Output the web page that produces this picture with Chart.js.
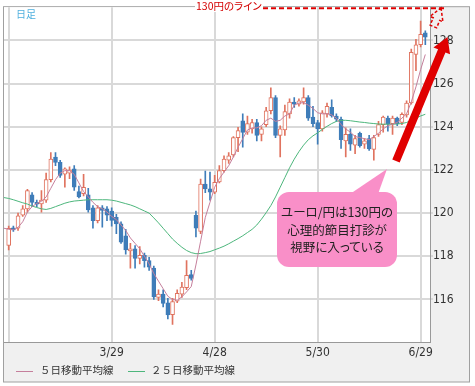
<!DOCTYPE html>
<html lang="ja">
<head>
<meta charset="utf-8">
<script src="https://cdn.jsdelivr.net/npm/chart.js@4.4.1/dist/chart.umd.min.js"></script>
<style>
  body { margin: 0; background: #fff; }
  #wrap { position: relative; width: 475px; height: 386px; font-family: "Noto Sans CJK JP", sans-serif; }
  #c { position: absolute; left: 0; top: 0; }
  .lbl { position: absolute; white-space: nowrap; line-height: 1; }
  #period { left: 16px; top: 9px; font-size: 10px; color: #4fb0de; }
  #line130 { left: 195px; top: 1px; font-size: 10.5px; color: #d40000; background: #fff; padding: 0 1px; font-feature-settings: "palt"; }
  #note { left: 277px; top: 203px; width: 120px; text-align: center; font-size: 12.5px; line-height: 17.5px; color: #222; font-feature-settings: "palt"; }
  .key { position: absolute; width: 17px; height: 0; border-top: 1px solid; top: 371px; }
  .legtxt { top: 365px; font-size: 10.5px; color: #333; }
</style>
</head>
<body>
<div id="wrap">
  <canvas id="c" width="475" height="386"></canvas>
  <div class="lbl" id="period">日足</div>
  <div class="lbl" id="line130">130円のライン</div>
  <div class="lbl" id="note">ユーロ/円は130円の<br>心理的節目打診が<br>視野に入っている</div>
  <span class="key" style="left:16px;border-color:#c57f9c"></span>
  <div class="lbl legtxt" style="left:40px">５日移動平均線</div>
  <span class="key" style="left:128px;border-color:#4db67c"></span>
  <div class="lbl legtxt" style="left:151px">２５日移動平均線</div>
</div>
<script>
// trading days, first and last entries are empty padding at the axis edges
const dates = ['2/24',
  '2/27','2/28','3/1','3/2','3/3','3/6','3/7','3/8','3/9','3/10',
  '3/13','3/14','3/15','3/16','3/17','3/20','3/21','3/22','3/23','3/24',
  '3/27','3/28','3/29','3/30','3/31','4/3','4/4','4/5','4/6','4/7',
  '4/10','4/11','4/12','4/13','4/14','4/17','4/18','4/19','4/20','4/21',
  '4/24','4/25','4/26','4/27','4/28','5/1','5/2','5/3','5/4','5/5',
  '5/8','5/9','5/10','5/11','5/12','5/15','5/16','5/17','5/18','5/19',
  '5/22','5/23','5/24','5/25','5/26','5/29','5/30','5/31','6/1','6/2',
  '6/5','6/6','6/7','6/8','6/9','6/12','6/13','6/14','6/15','6/16',
  '6/19','6/20','6/21','6/22','6/23','6/26','6/27','6/28','6/29','6/30',
  '7/3'];

const opens = [null,
  118.5, 119.32, 119.3, 119.9, 120.2, 120.85, 120.5, 120.43, 120.6, 121.55,
  122.6, 122.35, 121.8, 121.85, 122.05, 121.0, 120.9, 120.85, 120.25, 119.65,
  120.25, 120.2, 120.1, 119.8, 119.5, 118.95, 118.25, 118.35, 117.9, 118.05,
  117.8, 117.45, 116.1, 116.25, 115.85, 115.3, 115.92, 116.25, 116.55, 117.15,
  119.9, 119.15, 121.35, 121.12, 120.97, 121.45, 121.97, 122.45, 122.7, 123.5,
  124.28, 123.75, 123.9, 124.2, 123.65, 124.1, 124.75, 125.35, 123.6, 123.85,
  124.6, 125.15, 125.05, 125.15, 125.35, 124.45, 124.2, 123.9, 124.6, 124.9,
  124.5, 124.35, 123.35, 123.65, 123.15, 123.7, 123.2, 123.45, 122.95, 123.65,
  124.1, 124.4, 124.15, 124.4, 124.2, 124.55, 125.1, 127.35, 127.8, 128.35,
  null];
const highs = [null,
  119.4, 119.4, 120.0, 120.35, 121.1, 120.95, 120.6, 121.05, 121.85, 122.8,
  122.8, 122.45, 122.1, 122.15, 122.2, 121.25, 121.8, 121.15, 120.35, 120.35,
  120.35, 120.3, 120.25, 119.95, 119.6, 119.25, 118.6, 118.5, 118.45, 118.15,
  117.95, 117.55, 116.45, 116.45, 116.05, 116.05, 116.45, 116.8, 117.8, 117.35,
  120.1, 121.58, 121.95, 121.9, 121.75, 122.2, 122.65, 122.8, 123.55, 123.97,
  124.6, 124.5, 124.35, 124.35, 124.0, 124.9, 125.8, 125.45, 124.05, 125.0,
  125.3, 125.35, 125.3, 125.8, 125.45, 124.95, 124.3, 124.75, 125.1, 125.25,
  124.6, 124.45, 123.95, 123.9, 123.6, 123.75, 123.45, 123.6, 123.6, 124.25,
  124.5, 124.5, 124.5, 124.45, 124.65, 125.2, 127.6, 128.05, 128.9, 128.45,
  null];
const lows = [null,
  118.3, 119.15, 119.2, 119.85, 120.05, 120.3, 120.3, 120.05, 120.5, 121.45,
  122.2, 121.65, 121.2, 121.6, 121.05, 120.7, 120.8, 120.05, 119.3, 119.55,
  119.35, 119.65, 119.4, 119.05, 118.6, 118.1, 117.45, 117.45, 117.65, 117.5,
  117.35, 116.0, 115.95, 115.65, 115.1, 114.85, 115.85, 116.1, 116.45, 116.9,
  118.9, 119.05, 120.95, 120.6, 120.9, 121.4, 121.9, 122.3, 122.6, 122.85,
  123.05, 123.65, 123.7, 123.35, 123.35, 124.0, 124.6, 123.5, 122.6, 123.6,
  124.4, 124.9, 124.95, 125.05, 124.3, 124.0, 123.2, 123.8, 124.45, 124.45,
  124.25, 123.0, 122.6, 122.9, 122.75, 123.05, 123.0, 122.9, 122.45, 123.55,
  123.75, 123.8, 123.65, 124.05, 124.1, 124.45, 125.05, 126.6, 127.7, 127.8,
  null];
const closes = [null,
  119.3, 119.22, 119.88, 120.2, 121.05, 120.5, 120.42, 120.6, 121.55, 122.5,
  122.35, 121.75, 122.05, 122.0, 121.2, 120.75, 121.2, 120.15, 119.65, 120.25,
  120.12, 119.9, 119.66, 119.5, 118.66, 118.3, 118.35, 117.9, 118.05, 117.8,
  117.5, 116.12, 116.25, 115.82, 115.28, 115.9, 116.28, 116.58, 117.12, 116.97,
  119.3, 121.35, 121.12, 120.97, 121.43, 121.97, 122.5, 122.66, 123.5, 123.82,
  123.74, 124.15, 124.2, 123.6, 123.9, 124.74, 125.35, 123.6, 123.9, 124.7,
  125.15, 125.05, 125.2, 125.35, 124.4, 124.15, 123.9, 124.65, 124.95, 124.5,
  124.35, 123.4, 123.65, 123.2, 123.45, 123.12, 123.35, 122.97, 123.5, 124.1,
  124.45, 124.12, 124.4, 124.15, 124.58, 125.1, 127.45, 127.8, 128.28, 128.15,
  null];

// moving averages
const ma5 = [119.3,
  119.25, 119.23, 119.34, 119.6, 120.05, 120.3, 120.45, 120.55, 120.75, 121.15,
  121.55, 121.85, 121.97, 121.97, 121.8, 121.4, 121.0, 120.75, 120.5, 120.3,
  120.2, 120.05, 119.85, 119.7, 119.45, 119.2, 118.85, 118.6, 118.35, 118.0,
  117.65, 117.2, 116.85, 116.5, 116.15, 116.0, 115.97, 116.12, 116.35, 116.6,
  117.6, 118.7, 119.8, 120.5, 121.2, 121.6, 121.9, 122.2, 122.6, 123.05,
  123.45, 123.85, 123.95, 123.95, 124.05, 124.3, 124.4, 124.25, 124.3, 124.5,
  124.6, 125.0, 125.1, 125.12, 125.0, 124.85, 124.65, 124.6, 124.6, 124.55,
  124.4, 124.1, 123.9, 123.75, 123.55, 123.5, 123.45, 123.4, 123.55, 123.7,
  123.9, 124.05, 124.12, 124.2, 124.4, 124.6, 125.15, 125.85, 126.65, 127.35,
  null];
const ma25 = [120.72,
  120.68, 120.62, 120.55, 120.48, 120.42, 120.33, 120.26, 120.2, 120.17, 120.22,
  120.3, 120.38, 120.46, 120.52, 120.56, 120.58, 120.6, 120.62, 120.62, 120.62,
  120.62, 120.62, 120.6, 120.56, 120.5, 120.44, 120.38, 120.3, 120.2, 120.1,
  120.0, 119.78, 119.55, 119.3, 119.05, 118.8, 118.6, 118.42, 118.27, 118.17,
  118.12, 118.13, 118.17, 118.22, 118.3, 118.38, 118.47, 118.58, 118.7, 118.82,
  118.95, 119.1, 119.25, 119.45, 119.72, 120.02, 120.35, 120.75, 121.2, 121.65,
  122.1, 122.5, 122.85, 123.15, 123.4, 123.58, 123.72, 123.88, 124.02, 124.15,
  124.25, 124.3, 124.3, 124.28, 124.25, 124.22, 124.2, 124.17, 124.15, 124.13,
  124.12, 124.12, 124.12, 124.13, 124.15, 124.2, 124.3, 124.4, 124.5, 124.58,
  null];

const yTicks = [116, 118, 120, 122, 124, 126, 128];
const gridDates = ['2/27', '3/29', '4/28', '5/30', '6/29'];
const tickDates = ['3/29', '4/28', '5/30', '6/29'];

const UP = '#e0735f';
const DOWN = '#3f7db9';
const isUp = k => closes[k] >= opens[k];

const tickFont = { family: '"DejaVu Sans Condensed", "DejaVu Sans", sans-serif', size: 12 };

// frame, gray panels and the hand-drawn notes
const decorations = {
  id: 'decorations',
  beforeDraw(chart) {
    const { ctx, chartArea: a } = chart;
    ctx.save();
    ctx.fillStyle = '#fff';
    ctx.fillRect(0, 0, chart.width, chart.height);
    ctx.fillStyle = '#f0f0f0';
    ctx.fillRect(a.left - 0.5, a.top - 0.5, a.right - a.left + 40, a.bottom - a.top + 40.5);
    ctx.strokeStyle = '#a0a0a0';
    ctx.lineWidth = 1;
    ctx.strokeRect(a.left - 0.5, a.top - 0.5, a.right - a.left + 40, a.bottom - a.top + 40.5);
    ctx.fillStyle = '#fff';
    ctx.fillRect(a.left, a.top, a.right - a.left, a.bottom - a.top);
    ctx.restore();
  },
  afterDraw(chart) {
    const { ctx, chartArea: a } = chart;
    ctx.save();

    // 130 line (above the visible range, drawn at the top edge)
    ctx.strokeStyle = '#e00000';
    ctx.lineWidth = 2;
    ctx.setLineDash([5, 3]);
    ctx.beginPath();
    ctx.moveTo(263, a.top + 1);
    ctx.lineTo(446, a.top + 1);
    ctx.stroke();

    // arrow helper
    function arrowPath(tx, ty, px, py, shaftW, headW, headL) {
      const len = Math.hypot(px - tx, py - ty);
      const ux = (px - tx) / len, uy = (py - ty) / len;
      const nx = -uy, ny = ux;
      const bx = px - ux * headL, by = py - uy * headL;
      ctx.beginPath();
      ctx.moveTo(px, py);
      ctx.lineTo(bx + nx * headW, by + ny * headW);
      ctx.lineTo(bx + nx * shaftW, by + ny * shaftW);
      ctx.lineTo(tx + nx * shaftW, ty + ny * shaftW);
      ctx.lineTo(tx - nx * shaftW, ty - ny * shaftW);
      ctx.lineTo(bx - nx * shaftW, by - ny * shaftW);
      ctx.lineTo(bx - nx * headW, by - ny * headW);
      ctx.closePath();
    }

    // ghost arrow at the line
    ctx.lineWidth = 1.5;
    ctx.setLineDash([3, 2]);
    arrowPath(433.4, 26.5, 441, 8, 3.5, 7, 12);
    ctx.stroke();

    // main arrow
    ctx.setLineDash([]);
    ctx.fillStyle = '#e00000';
    arrowPath(396, 161, 447.5, 37, 4, 9, 15);
    ctx.fill();

    // callout
    ctx.fillStyle = '#f98fc8';
    ctx.beginPath();
    ctx.roundRect(277, 192, 120, 75, 12);
    ctx.fill();
    ctx.beginPath();
    ctx.moveTo(350, 194);
    ctx.lineTo(387, 169);
    ctx.lineTo(378, 194);
    ctx.closePath();
    ctx.fill();

    ctx.restore();
  }
};

new Chart(document.getElementById('c'), {
  type: 'bar',
  data: {
    labels: dates,
    datasets: [
      {
        type: 'line',
        label: '5日移動平均線',
        data: ma5,
        borderColor: '#c57f9c',
        borderWidth: 1,
        pointRadius: 0,
        tension: 0,
        order: 0
      },
      {
        type: 'line',
        label: '25日移動平均線',
        data: ma25,
        borderColor: '#4db67c',
        borderWidth: 1,
        pointRadius: 0,
        tension: 0,
        order: 1
      },
      {
        label: 'body',
        data: dates.map((d, k) => opens[k] == null ? null : [opens[k], closes[k]]),
        backgroundColor: ctx => isUp(ctx.dataIndex) ? '#fff' : DOWN,
        borderColor: ctx => isUp(ctx.dataIndex) ? UP : DOWN,
        borderWidth: 1,
        borderSkipped: false,
        barThickness: 4,
        grouped: false,
        order: 2
      },
      {
        label: 'wick',
        data: dates.map((d, k) => lows[k] == null ? null : [lows[k], highs[k]]),
        backgroundColor: ctx => isUp(ctx.dataIndex) ? UP : DOWN,
        barThickness: 1,
        grouped: false,
        order: 3
      }
    ]
  },
  options: {
    responsive: false,
    animation: false,
    devicePixelRatio: 1,
    events: [],
    layout: { padding: { top: 6, left: 4, right: 6, bottom: 4 } },
    plugins: {
      legend: { display: false },
      tooltip: { enabled: false }
    },
    scales: {
      x: {
        type: 'category',
        offset: false,
        grid: {
          offset: false,
          drawTicks: false,
          lineWidth: 2,
          color: ctx => gridDates.includes(dates[ctx.index]) ? '#d9d9d9' : 'rgba(0,0,0,0)'
        },
        border: { color: '#999', width: 1 },
        ticks: {
          autoSkip: false,
          maxRotation: 0,
          minRotation: 0,
          padding: 4,
          color: '#333',
          font: tickFont,
          callback: (value) => tickDates.includes(dates[value]) ? dates[value] : ''
        },
        afterFit(scale) { scale.height = 40; }
      },
      y: {
        position: 'right',
        min: 114.03,
        max: 129.54,
        afterBuildTicks(scale) { scale.ticks = yTicks.map(v => ({ value: v })); },
        grid: { color: '#d9d9d9', lineWidth: 2, tickLength: 3 },
        border: { color: '#999', width: 1 },
        ticks: { padding: 0, color: '#333', font: tickFont },
        afterFit(scale) { scale.width = 39; }
      }
    }
  },
  plugins: [decorations]
});
</script>
</body>
</html>
